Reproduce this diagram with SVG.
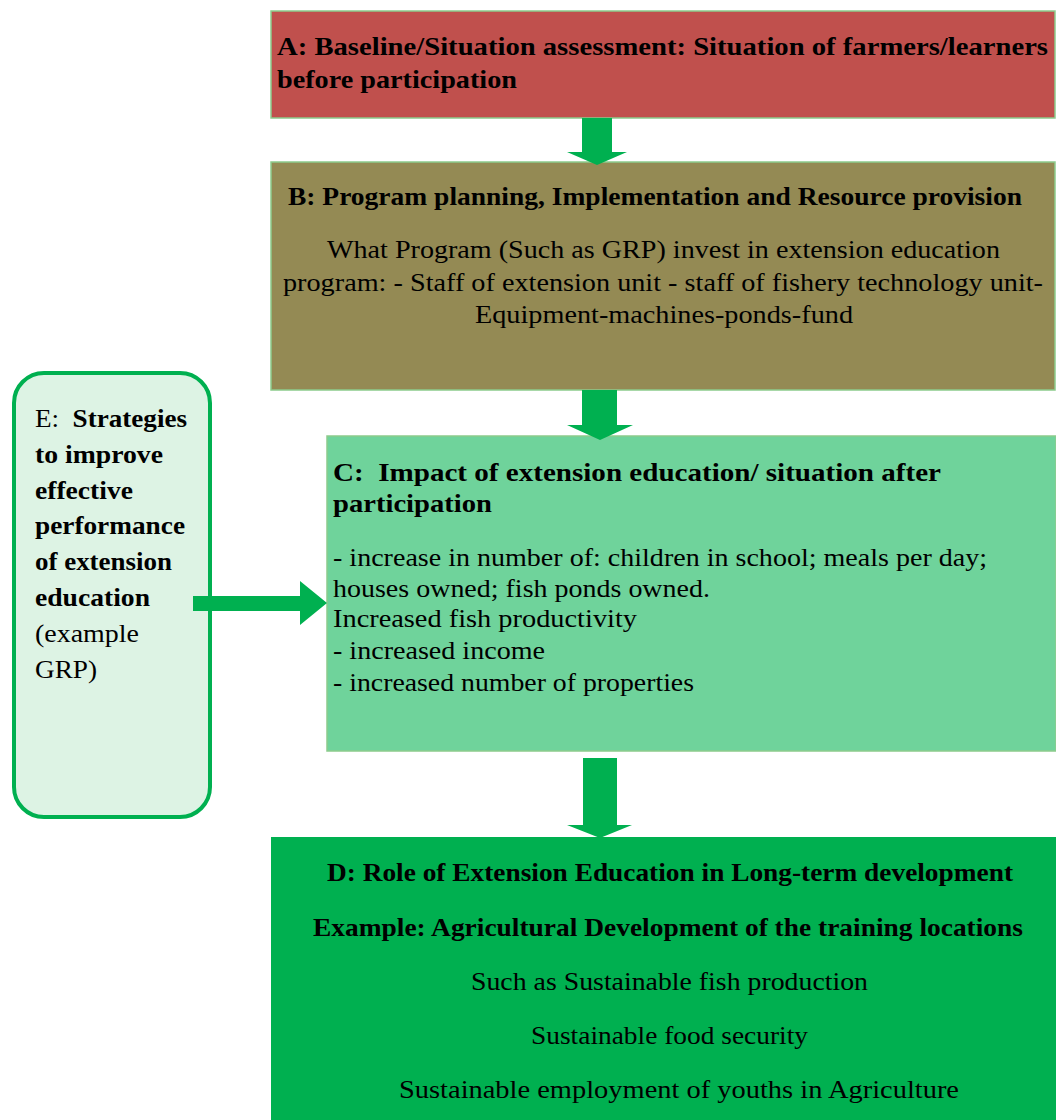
<svg xmlns="http://www.w3.org/2000/svg" width="1056" height="1120" viewBox="0 0 1056 1120">
<style>
.t{font-family:"Liberation Serif","Times New Roman",Tinos,serif;font-size:26px;fill:#000}
.b{font-weight:bold}
.box{stroke:#8CCB8C;stroke-width:1.5}
.arr{fill:#00B050}
</style>
<rect width="1056" height="1120" fill="#fff"/>
<g id="nodeA">
<rect class="box" x="271" y="11" width="784" height="107" fill="#C0504D"/>
<text class="t b" x="277" y="55" textLength="771" lengthAdjust="spacingAndGlyphs">A: Baseline/Situation assessment: Situation of farmers/learners</text>
<text class="t b" x="277" y="88" textLength="240" lengthAdjust="spacingAndGlyphs">before participation</text>
</g>
<g id="nodeB">
<rect class="box" x="271" y="162" width="784" height="228" fill="#948A54"/>
<text class="t b" x="288" y="205" textLength="734" lengthAdjust="spacingAndGlyphs">B: Program planning, Implementation and Resource provision</text>
<text class="t" x="327" y="258" textLength="673" lengthAdjust="spacingAndGlyphs">What Program (Such as GRP) invest in extension education</text>
<text class="t" x="283" y="291" textLength="760" lengthAdjust="spacingAndGlyphs">program: - Staff of extension unit - staff of fishery technology unit-</text>
<text class="t" x="475" y="323" textLength="378" lengthAdjust="spacingAndGlyphs">Equipment-machines-ponds-fund</text>
</g>
<g id="nodeC">
<rect class="box" x="327" y="436" width="729" height="315" fill="#6FD39B"/>
<text class="t b" x="333" y="481" textLength="608" lengthAdjust="spacingAndGlyphs">C:&#160; Impact of extension education/ situation after</text>
<text class="t b" x="333" y="512" textLength="159" lengthAdjust="spacingAndGlyphs">participation</text>
<text class="t" x="333" y="566" textLength="654" lengthAdjust="spacingAndGlyphs">- increase in number of: children in school; meals per day;</text>
<text class="t" x="333" y="597" textLength="377" lengthAdjust="spacingAndGlyphs">houses owned; fish ponds owned.</text>
<text class="t" x="333" y="627" textLength="304" lengthAdjust="spacingAndGlyphs">Increased fish productivity</text>
<text class="t" x="333" y="659" textLength="212" lengthAdjust="spacingAndGlyphs">- increased income</text>
<text class="t" x="333" y="691" textLength="361" lengthAdjust="spacingAndGlyphs">- increased number of properties</text>
</g>
<g id="nodeD">
<rect x="271" y="837" width="785" height="283" fill="#00B050"/>
<text class="t b" x="327" y="881" textLength="686" lengthAdjust="spacingAndGlyphs">D: Role of Extension Education in Long-term development</text>
<text class="t b" x="313" y="936" textLength="710" lengthAdjust="spacingAndGlyphs">Example: Agricultural Development of the training locations</text>
<text class="t" x="471" y="990" textLength="397" lengthAdjust="spacingAndGlyphs">Such as Sustainable fish production</text>
<text class="t" x="531" y="1044" textLength="277" lengthAdjust="spacingAndGlyphs">Sustainable food security</text>
<text class="t" x="399" y="1098" textLength="560" lengthAdjust="spacingAndGlyphs">Sustainable employment of youths in Agriculture</text>
</g>
<g id="nodeE">
<rect x="14" y="373" width="196" height="444" rx="30" ry="30" fill="#DDF3E4" stroke="#00B050" stroke-width="4"/>
<text class="t" x="35" y="427" textLength="152" lengthAdjust="spacingAndGlyphs">E:&#160; <tspan class="b">Strategies</tspan></text>
<text class="t b" x="35" y="463" textLength="128" lengthAdjust="spacingAndGlyphs">to improve</text>
<text class="t b" x="35" y="499" textLength="98" lengthAdjust="spacingAndGlyphs">effective</text>
<text class="t b" x="35" y="534" textLength="150" lengthAdjust="spacingAndGlyphs">performance</text>
<text class="t b" x="35" y="570" textLength="137" lengthAdjust="spacingAndGlyphs">of extension</text>
<text class="t b" x="35" y="606" textLength="115" lengthAdjust="spacingAndGlyphs">education</text>
<text class="t" x="35" y="642" textLength="104" lengthAdjust="spacingAndGlyphs">(example</text>
<text class="t" x="35" y="678" textLength="62" lengthAdjust="spacingAndGlyphs">GRP)</text>
</g>
<g id="connectors">
<polygon class="arr" points="582,118 612,118 612,152 627,152 597,165 567,152 582,152"/>
<polygon class="arr" points="582,390 617,390 617,425 633,425 600,440 567,425 582,425"/>
<polygon class="arr" points="583,758 617,758 617,825 632,825 600,838 567,825 583,825"/>
<polygon class="arr" points="193,596 300,596 300,581 327,603 300,625 300,611 193,611"/>
</g>
</svg>
